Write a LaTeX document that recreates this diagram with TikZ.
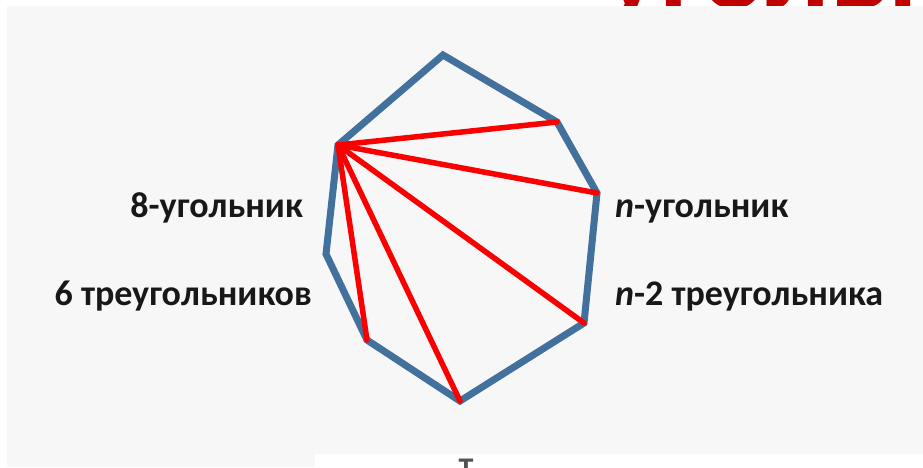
\documentclass[tikz,border=0pt]{standalone}
\usepackage{fontspec}
\setmainfont{Carlito}
\usepackage{xcolor}
\usepackage{tikz}
\definecolor{polyBlue}{RGB}{65,113,156}
\definecolor{diagRed}{RGB}{250,0,0}
\definecolor{titleRed}{RGB}{192,0,0}
\definecolor{slideGray}{RGB}{247,247,247}
\definecolor{labelBlack}{RGB}{24,24,24}

\begin{document}
\begin{tikzpicture}[x=1pt, y=-1pt,
  edge/.style={draw=polyBlue, line width=7pt, line join=miter},
  diag/.style={draw=diagRed, line width=5.5pt, line cap=round},
  lbl/.style={font=\fontsize{36}{40}\selectfont\bfseries, text=labelBlack, inner sep=0pt}
]
\useasboundingbox (0,0) rectangle (923,467);
\begin{scope}
  \clip (0,0) rectangle (923,467);
  % title, mostly hidden behind the slide picture
  \node[anchor=base west, inner sep=0pt, text=titleRed,
        font=\fontsize{120}{130}\selectfont\bfseries] (title) at (603,8) {угольник};
  \fill[slideGray] (7,6) rectangle (923,467);
  \fill[white] (315,454) rectangle (923,467);
  \node[anchor=north, inner sep=0pt, text=labelBlack!75,
        font=\fontsize{30}{30}\selectfont\bfseries] (cut) at (466,459) {Т};
\end{scope}

\coordinate (v1) at (443,55);
\coordinate (v2) at (557,122);
\coordinate (v3) at (597,193);
\coordinate (v4) at (584,323);
\coordinate (v5) at (460,401);
\coordinate (v6) at (367,340);
\coordinate (v7) at (326,254);
\coordinate (v8) at (338,145);
\draw[edge] (v1) -- (v2) -- (v3) -- (v4) -- (v5) -- (v6) -- (v7) -- (v8) -- cycle;
\foreach \k in {2,...,6}
  \draw[diag] (v8) -- (v\k);

\node[lbl, anchor=base east] (oct) at (303,217) {8-угольник};
\node[lbl, anchor=base east] (tri6) at (312,305) {6 треугольников};
\node[lbl, anchor=base west] (ngon) at (615,217) {\textit{n}-угольник};
\node[lbl, anchor=base west] (trin) at (615,305) {\textit{n}-2 треугольника};
\end{tikzpicture}
\end{document}
